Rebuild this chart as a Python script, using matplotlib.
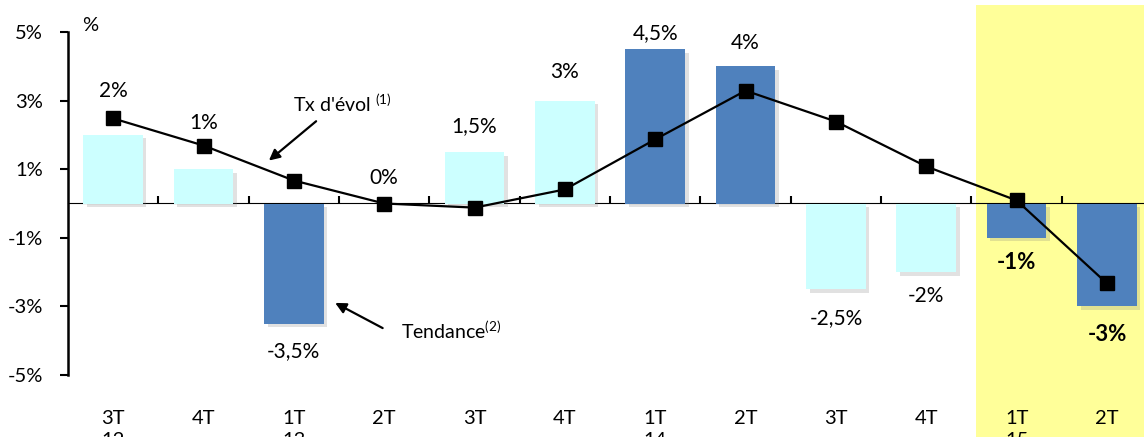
import matplotlib
matplotlib.use("Agg")
import matplotlib.pyplot as plt
import matplotlib.patheffects as pe
import matplotlib.transforms as mtransforms
from matplotlib.patches import Rectangle

plt.rcParams['font.family'] = ['Lato', 'DejaVu Sans']
plt.rcParams['mathtext.fontset'] = 'custom'
plt.rcParams['mathtext.rm'] = 'Lato'

# ---- data ----
quarters = ["3T", "4T", "1T", "2T", "3T", "4T", "1T", "2T", "3T", "4T", "1T", "2T"]
years = ["12", "", "13", "", "", "", "14", "", "", "", "15", ""]
tendance = [2, 1, -3.5, 0, 1.5, 3, 4.5, 4, -2.5, -2, -1, -3]
tx_evol = [2.48, 1.69, 0.67, 0.0, -0.12, 0.41, 1.87, 3.29, 2.39, 1.08, 0.09, -2.33]
bar_labels = ["2%", "1%", "-3,5%", "0%", "1,5%", "3%", "4,5%", "4%", "-2,5%", "-2%", "-1%", "-3%"]
label_y = [3.27, 2.36, -4.29, 0.73, 2.27, 3.82, 4.96, 4.69, -3.35, -2.71, -1.72, -3.82]
dark_bar = [False, False, True, False, False, False, True, True, False, False, True, True]
bold_label = [False] * 10 + [True, True]
yticks = [5, 3, 1, -1, -3, -5]
ytick_labels = ["5%", "3%", "1%", "-1%", "-3%", "-5%"]
highlight_start = 9.55

LIGHT = "#CCFFFF"
DARK = "#4F81BD"
YELLOW = "#FFFF99"

fig = plt.figure(figsize=(11.44, 4.37), dpi=100)
ax = fig.add_axes([68 / 1144, 62 / 437, 1 - 68 / 1144, 343 / 437])
ax.set_facecolor("none")

x = list(range(len(quarters)))

# highlight band (figure-height)
trans = mtransforms.blended_transform_factory(ax.transData, fig.transFigure)
band = Rectangle((highlight_start, 0), 20, 432 / 437, transform=trans,
                 facecolor=YELLOW, edgecolor="none", zorder=-5)
fig.add_artist(band)

colors = [DARK if d else LIGHT for d in dark_bar]
bars = ax.bar(x, tendance, width=0.66, color=colors, zorder=2)
for b in bars:
    b.set_path_effects([pe.SimplePatchShadow(offset=(2.5, -2.5), shadow_rgbFace="#777777", alpha=0.22),
                        pe.Normal()])

ax.plot(x, tx_evol, color="black", lw=1.6, marker="s", markersize=10,
        markerfacecolor="black", markeredgecolor="black", zorder=4)

for xi, lab, ly, bd in zip(x, bar_labels, label_y, bold_label):
    ax.text(xi, ly, lab, ha="center", va="center", fontsize=16 if bd else 15,
            fontweight="bold" if bd else "normal", color="black", zorder=5)

ax.set_xlim(-0.5, 11.41)
ax.set_ylim(-5, 5)

# y axis
ax.set_yticks(yticks)
ax.set_yticklabels(ytick_labels, fontsize=14.5)
ax.tick_params(axis="y", direction="out", length=6, width=1.5, pad=12, colors="black")
ax.spines["left"].set_linewidth(1.8)
for s in ["top", "right", "bottom"]:
    ax.spines[s].set_visible(False)

# x category labels at the bottom
ax.set_xticks(x)
ax.set_xticklabels([f"{q}\n{y}" if y else q for q, y in zip(quarters, years)],
                   fontsize=14.5, linespacing=1.4, va="top")
ax.tick_params(axis="x", length=0, pad=25)

# zero line axis with boundary ticks
sec = ax.secondary_xaxis(0.5)
sec.set_xticks([i + 0.5 for i in range(len(quarters) - 1)])
sec.set_xticklabels([])
sec.tick_params(axis="x", direction="out", length=5, width=1.5, colors="black")
sec.spines["bottom"].set_linewidth(2.0)

# annotations
ax.text(-0.25, 5.19, "%", fontsize=14.5, ha="center", va="center", clip_on=False)
ax.annotate("", xy=(1.70, 1.20), xytext=(2.27, 2.45),
            arrowprops=dict(arrowstyle="-|>", color="black", lw=1.6, mutation_scale=16), zorder=6)
ax.text(1.99, 2.92, "Tx d'évol $^{\\mathrm{(1)}}$", fontsize=14, ha="left", va="center")
ax.annotate("", xy=(2.43, -2.86), xytext=(3.01, -3.67),
            arrowprops=dict(arrowstyle="-|>", color="black", lw=1.6, mutation_scale=16), zorder=6)
ax.text(3.19, -3.70, "Tendance$^{\\mathrm{(2)}}$", fontsize=14, ha="left", va="center")

fig.savefig("out.png", dpi=100)
